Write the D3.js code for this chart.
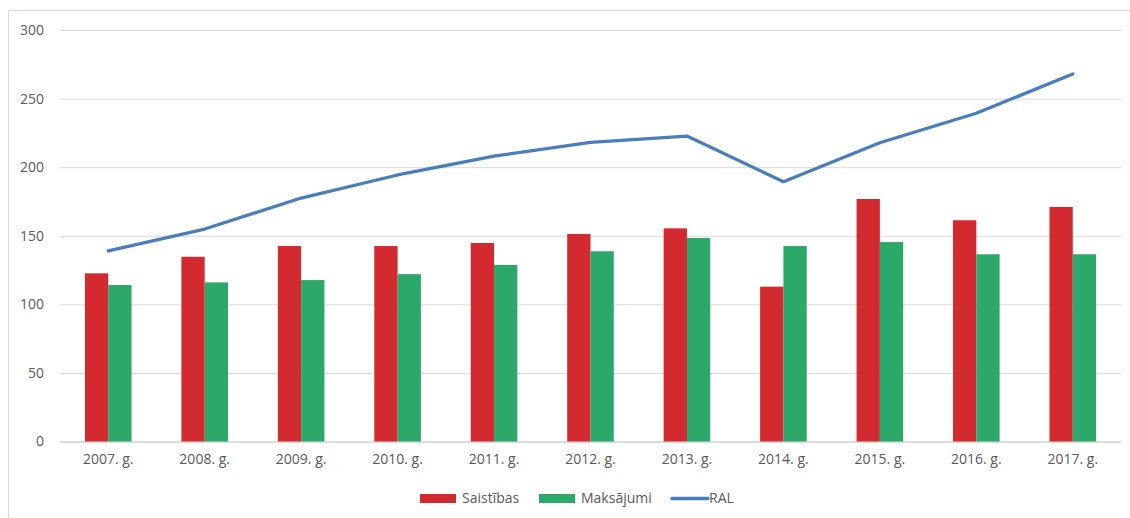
<!DOCTYPE html>
<html><head><meta charset="utf-8">
<script src="https://cdn.jsdelivr.net/npm/d3@7"></script>
<style>body{margin:0;background:#fff}svg{display:block}</style>
</head><body><svg id="c" width="1130" height="518"></svg>
<script>
const categories = ["2007. g.","2008. g.","2009. g.","2010. g.","2011. g.","2012. g.","2013. g.","2014. g.","2015. g.","2016. g.","2017. g."];
const saistibas = [122.6,134.7,142.5,142.5,144.7,151.3,155.4,112.9,176.8,161.3,171];
const maksajumi = [114.1,116,117.7,122,128.7,138.7,148.4,142.5,145.4,136.5,136.5];
const ral = [138.9,154.9,177.5,194.3,208,218.1,222.7,189.4,217.8,239.3,267.9];
const yTicks = [0,50,100,150,200,250,300];
const seriesNames = ["Saistības","Maksājumi","RAL"];
const colors = ["#d32a30","#2ba86a","#4a7ebb"];

const svg = d3.select("#c");
const font = "'Open Sans', sans-serif";
const fs = "14px";
svg.append("rect").attr("x",8.5).attr("y",10.5).attr("width",1200).attr("height",600)
  .attr("fill","none").attr("stroke","#d9d9d9");

const L=60,R=1121,T=30,B=441.5;
const x = d3.scaleBand().domain(categories).range([L,R]).paddingInner(0).paddingOuter(0);
const y = d3.scaleLinear().domain([0,300]).range([B,T]);
const bw = 23.3;

const ga = svg.append("g").attr("transform",`translate(${L},0)`)
  .call(d3.axisLeft(y).tickValues(yTicks).tickSize(-(R-L)).tickPadding(16));
ga.select(".domain").remove();
ga.selectAll(".tick line").attr("stroke","#d9d9d9");
ga.selectAll(".tick text").attr("fill","#595959").style("font-family",font).style("font-size",fs);
ga.selectAll(".tick").filter(d=>d===0).select("line").attr("stroke","#d0d0d0").attr("stroke-width",1.5);

const gx = svg.append("g").attr("transform",`translate(0,${B})`)
  .call(d3.axisBottom(x).tickSize(0).tickPadding(13));
gx.select(".domain").remove();
gx.selectAll(".tick text").attr("fill","#595959").style("font-family",font).style("font-size",fs);

const cx = c => x(c)+x.bandwidth()/2;
svg.append("g").selectAll("rect").data(categories).join("rect")
  .attr("x",c=>cx(c)-bw).attr("width",bw)
  .attr("y",(c,i)=>y(saistibas[i])).attr("height",(c,i)=>B-y(saistibas[i]))
  .attr("fill",colors[0]);
svg.append("g").selectAll("rect").data(categories).join("rect")
  .attr("x",c=>cx(c)).attr("width",bw)
  .attr("y",(c,i)=>y(maksajumi[i])).attr("height",(c,i)=>B-y(maksajumi[i]))
  .attr("fill",colors[1]);

const line = d3.line().x((d,i)=>cx(categories[i])).y(d=>y(d));
svg.append("path").datum(ral).attr("d",line).attr("fill","none")
  .attr("stroke",colors[2]).attr("stroke-width",3.3).attr("stroke-linecap","round").attr("stroke-linejoin","round");

// legend
const lg = svg.append("g").style("font-family",font).style("font-size",fs);
const items = [{x:420,tx:462},{x:539,tx:581},{x:671,tx:709}];
items.forEach((it,i)=>{
  if(i<2) lg.append("rect").attr("x",it.x).attr("y",494).attr("width",36).attr("height",9).attr("fill",colors[i]);
  else lg.append("line").attr("x1",it.x+1).attr("x2",it.x+37).attr("y1",498.5).attr("y2",498.5)
    .attr("stroke",colors[2]).attr("stroke-width",3.3).attr("stroke-linecap","round");
  lg.append("text").attr("x",it.tx).attr("y",503).attr("fill","#595959").text(seriesNames[i]);
});
</script></body></html>
